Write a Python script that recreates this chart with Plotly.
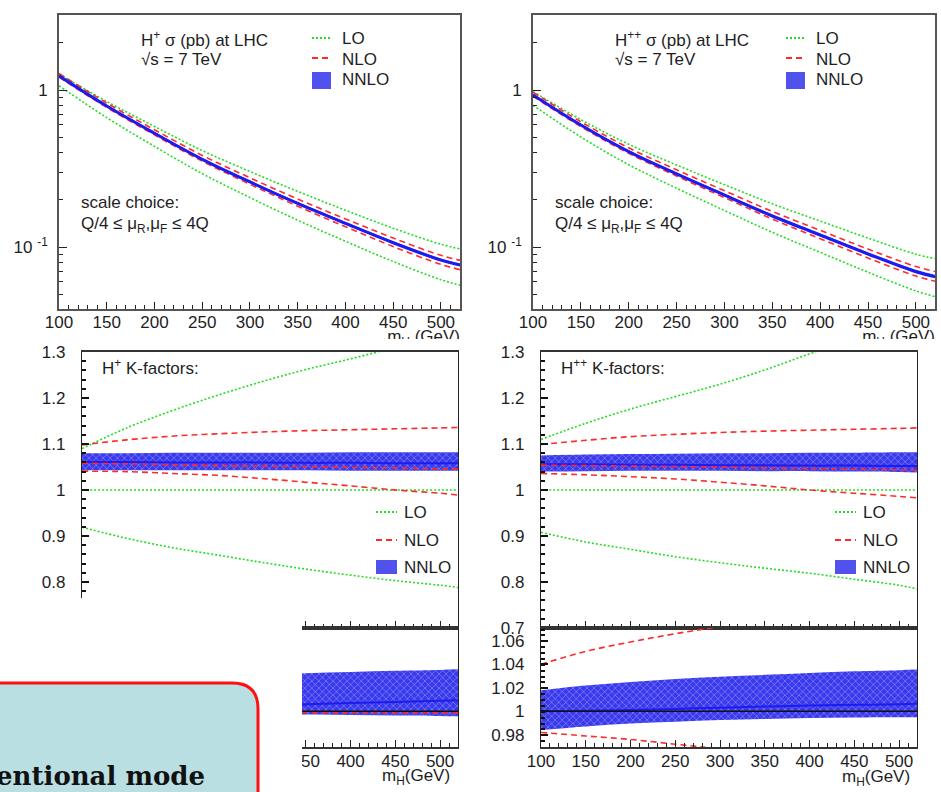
import plotly.graph_objects as go

W, H = 941, 792


def fx(p):
    return p / W


def fy(p):
    return 1 - p / H


mass = [100, 150, 200, 250, 300, 350, 400, 450, 500, 520]
mass_ticks = [100, 150, 200, 250, 300, 350, 400, 450, 500]
mass_ticks_cut = [350, 400, 450, 500]

# ---------------- H+ cross sections (pb) ----------------
hp_lo_up = [1.264, 0.8456, 0.586, 0.4115, 0.3026, 0.2259, 0.1715, 0.1318, 0.1040, 0.0973]
hp_lo_dn = [1.066, 0.6668, 0.4375, 0.2933, 0.2065, 0.1482, 0.1088, 0.0808, 0.0619, 0.0571]
hp_nlo_up = [1.274, 0.8262, 0.5585, 0.3832, 0.2759, 0.2021, 0.1510, 0.1140, 0.0885, 0.0824]
hp_nlo_dn = [1.208, 0.7748, 0.518, 0.3524, 0.2511, 0.1820, 0.1347, 0.1006, 0.0775, 0.0717]
hp_nnlo = [1.231, 0.7904, 0.530, 0.362, 0.2597, 0.1896, 0.1414, 0.1064, 0.0825, 0.0767]
hp_nnlo_up = [1.253, 0.8046, 0.5405, 0.3692, 0.2648, 0.1935, 0.1444, 0.1088, 0.0844, 0.0784]
hp_nnlo_dn = [1.210, 0.7770, 0.5215, 0.3562, 0.2555, 0.1867, 0.1391, 0.1048, 0.0813, 0.0755]

# ---------------- H++ cross sections (pb) ----------------
hpp_lo_up = [0.9776, 0.6484, 0.4515, 0.3330, 0.2497, 0.1884, 0.1464, 0.1140, 0.0900, 0.0844]
hpp_lo_dn = [0.7997, 0.5023, 0.3344, 0.2367, 0.1709, 0.1240, 0.0925, 0.0691, 0.0525, 0.0483]
hpp_nlo_up = [0.9679, 0.6275, 0.4284, 0.3103, 0.2284, 0.1685, 0.1277, 0.0970, 0.0751, 0.0698]
hpp_nlo_dn = [0.9124, 0.5850, 0.3950, 0.2834, 0.2065, 0.1507, 0.1130, 0.0851, 0.0653, 0.0605]
hpp_nnlo = [0.930, 0.598, 0.405, 0.292, 0.214, 0.1575, 0.119, 0.0902, 0.0696, 0.0647]
hpp_nnlo_up = [0.9468, 0.6099, 0.4138, 0.2987, 0.2192, 0.1614, 0.1222, 0.0926, 0.0716, 0.0665]
hpp_nnlo_dn = [0.9159, 0.5895, 0.4000, 0.2884, 0.2115, 0.1555, 0.1176, 0.0891, 0.0688, 0.0638]

# ---------------- H+ K-factors (relative to LO central) ----------------
kp_lo = [1.0, 1.0, 1.0, 1.0, 1.0, 1.0, 1.0, 1.0, 1.0, 1.0]
kp_lo_up = [1.09, 1.135, 1.172, 1.205, 1.235, 1.262, 1.285, 1.31, 1.333, 1.342]
kp_lo_dn = [0.919, 0.895, 0.875, 0.859, 0.843, 0.828, 0.815, 0.803, 0.793, 0.788]
kp_nlo_up = [1.098, 1.109, 1.117, 1.122, 1.126, 1.129, 1.131, 1.133, 1.135, 1.136]
kp_nlo = [1.058, 1.057, 1.055, 1.053, 1.052, 1.051, 1.049, 1.048, 1.046, 1.045]
kp_nlo_dn = [1.041, 1.040, 1.036, 1.032, 1.025, 1.017, 1.009, 1.000, 0.993, 0.989]
kp_nnlo = [1.061, 1.061, 1.060, 1.060, 1.060, 1.059, 1.059, 1.058, 1.058, 1.058]
kp_nnlo_up = [1.080, 1.080, 1.081, 1.081, 1.081, 1.081, 1.082, 1.082, 1.082, 1.082]
kp_nnlo_dn = [1.043, 1.043, 1.043, 1.043, 1.043, 1.043, 1.042, 1.042, 1.042, 1.042]

# ---------------- H++ K-factors ----------------
kpp_lo = [1.0, 1.0, 1.0, 1.0, 1.0, 1.0, 1.0, 1.0, 1.0, 1.0]
kpp_lo_up = [1.110, 1.145, 1.176, 1.203, 1.230, 1.261, 1.296, 1.33, 1.36, 1.372]
kpp_lo_dn = [0.908, 0.887, 0.871, 0.855, 0.842, 0.830, 0.819, 0.806, 0.793, 0.785]
kpp_nlo_up = [1.099, 1.108, 1.116, 1.121, 1.125, 1.128, 1.130, 1.132, 1.134, 1.135]
kpp_nlo = [1.054, 1.053, 1.052, 1.051, 1.050, 1.048, 1.047, 1.045, 1.044, 1.043]
kpp_nlo_dn = [1.036, 1.033, 1.029, 1.024, 1.017, 1.009, 1.000, 0.993, 0.986, 0.983]
kpp_nnlo = [1.056, 1.056, 1.055, 1.055, 1.054, 1.054, 1.053, 1.053, 1.052, 1.052]
kpp_nnlo_up = [1.075, 1.077, 1.078, 1.079, 1.080, 1.080, 1.081, 1.081, 1.082, 1.082]
kpp_nnlo_dn = [1.040, 1.041, 1.042, 1.042, 1.042, 1.041, 1.041, 1.040, 1.039, 1.038]

# ---------------- scale-variation ratios ----------------
rp_ref = [1.0, 1.0, 1.0, 1.0, 1.0, 1.0, 1.0, 1.0, 1.0, 1.0]
rp_nnlo = [1.000, 1.001, 1.002, 1.003, 1.005, 1.006, 1.007, 1.008, 1.009, 1.0094]
rp_nnlo_up = [1.018, 1.022, 1.025, 1.028, 1.030, 1.0323, 1.0335, 1.0345, 1.0352, 1.0357]
rp_nnlo_dn = [0.984, 0.987, 0.990, 0.9925, 0.995, 0.9972, 0.9968, 0.9964, 0.996, 0.9957]
rp_nlo = [0.999, 0.999, 0.999, 0.999, 0.999, 0.9988, 0.9987, 0.9986, 0.9985, 0.9985]

rpp_ref = [1.0, 1.0, 1.0, 1.0, 1.0, 1.0, 1.0, 1.0, 1.0, 1.0]
rpp_nnlo = [1.000, 1.0005, 1.001, 1.002, 1.003, 1.004, 1.005, 1.0055, 1.006, 1.0065]
rpp_nnlo_up = [1.018, 1.022, 1.025, 1.0275, 1.0295, 1.031, 1.0325, 1.034, 1.035, 1.0355]
rpp_nnlo_dn = [0.984, 0.987, 0.9895, 0.991, 0.9925, 0.9935, 0.9943, 0.9948, 0.995, 0.995]
rpp_nlo_up = [1.040, 1.051, 1.059, 1.066, 1.072, 1.077, 1.081, 1.084, 1.087, 1.088]
rpp_nlo_dn = [0.982, 0.979, 0.976, 0.972, 0.968, 0.964, 0.959, 0.955, 0.951, 0.950]

GREEN = "#22dd22"
RED = "#ff2a2a"
BLUE = "#1c1cf0"
FONT = "Liberation Sans, Arial, sans-serif"
TXT = "#1e1e1e"

fig = go.Figure()


def band(xa, ya, lo, hi):
    fig.add_trace(go.Scatter(x=mass, y=lo, mode="lines", line=dict(width=0, shape="spline"),
                             xaxis=xa, yaxis=ya, showlegend=False, hoverinfo="skip"))
    fig.add_trace(go.Scatter(x=mass, y=hi, mode="lines", line=dict(width=0, shape="spline"),
                             fill="tonexty", fillcolor="rgba(40,40,235,0.85)",
                             fillpattern=dict(shape="x", fgcolor="rgba(245,245,255,0.95)",
                                              bgcolor="rgba(35,35,235,0.9)", size=5, solidity=0.22),
                             xaxis=xa, yaxis=ya, showlegend=False, hoverinfo="skip"))


def curve(xa, ya, y, color, dash, width):
    fig.add_trace(go.Scatter(x=mass, y=y, mode="lines",
                             line=dict(color=color, dash=dash, width=width, shape="spline"),
                             xaxis=xa, yaxis=ya, showlegend=False, hoverinfo="skip"))


DOT = "2px,2px"
DASH = "6px,4px"

# cross-section panels
for xa, ya, up, dn, nlu, nld, c, cu, cd in [
    ("x", "y", hp_lo_up, hp_lo_dn, hp_nlo_up, hp_nlo_dn, hp_nnlo, hp_nnlo_up, hp_nnlo_dn),
    ("x2", "y2", hpp_lo_up, hpp_lo_dn, hpp_nlo_up, hpp_nlo_dn, hpp_nnlo, hpp_nnlo_up, hpp_nnlo_dn),
]:
    band(xa, ya, cd, cu)
    curve(xa, ya, up, GREEN, DOT, 1.6)
    curve(xa, ya, dn, GREEN, DOT, 1.6)
    curve(xa, ya, nlu, RED, DASH, 1.6)
    curve(xa, ya, nld, RED, DASH, 1.6)
    curve(xa, ya, c, BLUE, "solid", 3)

# K-factor panels
for xa, ya, lo, up, dn, nlu, nl, nld, c, cu, cd in [
    ("x3", "y3", kp_lo, kp_lo_up, kp_lo_dn, kp_nlo_up, kp_nlo, kp_nlo_dn, kp_nnlo, kp_nnlo_up, kp_nnlo_dn),
    ("x4", "y4", kpp_lo, kpp_lo_up, kpp_lo_dn, kpp_nlo_up, kpp_nlo, kpp_nlo_dn, kpp_nnlo, kpp_nnlo_up, kpp_nnlo_dn),
]:
    band(xa, ya, cd, cu)
    curve(xa, ya, lo, GREEN, DOT, 1.6)
    curve(xa, ya, up, GREEN, DOT, 1.6)
    curve(xa, ya, dn, GREEN, DOT, 1.6)
    curve(xa, ya, nlu, RED, DASH, 1.6)
    curve(xa, ya, nld, RED, DASH, 1.6)
    curve(xa, ya, c, BLUE, "solid", 2)
    curve(xa, ya, nl, RED, DASH, 1.6)

# ratio panels
band("x5", "y5", rp_nnlo_dn, rp_nnlo_up)
curve("x5", "y5", rp_nnlo, BLUE, "solid", 2)
curve("x5", "y5", rp_ref, "#111111", "solid", 1.5)
curve("x5", "y5", rp_nlo, RED, DASH, 1.4)

band("x6", "y6", rpp_nnlo_dn, rpp_nnlo_up)
curve("x6", "y6", rpp_nnlo, BLUE, "solid", 2)
curve("x6", "y6", rpp_ref, "#111111", "solid", 1.5)
curve("x6", "y6", rpp_nlo_up, RED, DASH, 1.6)
curve("x6", "y6", rpp_nlo_dn, RED, DASH, 1.6)

# partially hidden axis titles of the cross-section panels (clipped by the panels below)
for xa, ya in [("x7", "y7"), ("x8", "y8")]:
    fig.add_trace(go.Scatter(x=[1.0], y=[0.06], mode="text", text=["m<sub>H</sub> (GeV)"],
                             textposition="middle left", cliponaxis=True,
                             textfont=dict(family=FONT, size=17, color=TXT),
                             xaxis=xa, yaxis=ya, showlegend=False, hoverinfo="skip"))

tickfont = dict(family=FONT, size=17, color=TXT)


def xaxis_def(x0, x1, anchor, labels=True, linecolor="#333", standoff=-3, vals=mass_ticks):
    return dict(domain=[fx(x0), fx(x1)], range=[100, 520], anchor=anchor, automargin=False,
                tickvals=vals, showticklabels=labels, ticks="inside", ticklen=7,
                tickwidth=1.2, tickcolor="#222",
                minor=dict(dtick=10, tick0=100, ticks="inside", ticklen=4, tickwidth=1, tickcolor="#222"),
                showline=True, linecolor=linecolor, linewidth=1.6, mirror=True,
                showgrid=False, zeroline=False, tickfont=tickfont, ticklabelstandoff=standoff)


def yaxis_lin(y0, y1, anchor, rng, vals, text, mdt, linecolor="#222", standoff=12):
    return dict(domain=[fy(y1), fy(y0)], range=rng, anchor=anchor, automargin=False,
                tickvals=vals, ticktext=text, ticks="inside", ticklen=7, tickwidth=2, tickcolor="#111",
                minor=dict(dtick=mdt, tick0=rng[0], ticks="inside", ticklen=4, tickwidth=1.5, tickcolor="#111"),
                showline=True, linecolor=linecolor, linewidth=1.4, mirror=True,
                showgrid=False, zeroline=False, tickfont=tickfont, ticklabelstandoff=standoff)


def yaxis_log(anchor):
    return dict(domain=[fy(309), fy(15)], type="log", range=[-1.395, 0.478], anchor=anchor,
                automargin=False,
                tickvals=[0.1, 1], ticktext=["10&nbsp;<sup>-1</sup>", "1"],
                ticks="inside", ticklen=8, tickwidth=1.2, tickcolor="#222",
                minor=dict(tickvals=[0.05, 0.06, 0.07, 0.08, 0.09, 0.2, 0.3, 0.4, 0.5, 0.6, 0.7, 0.8, 0.9, 2, 3],
                           ticks="inside", ticklen=4, tickwidth=1, tickcolor="#222"),
                showline=True, linecolor="#555", linewidth=1.6, mirror=True,
                showgrid=False, zeroline=False, tickfont=tickfont, ticklabelstandoff=6)


K_VALS = [0.7, 0.8, 0.9, 1.0, 1.1, 1.2, 1.3]
K_TEXT = ["0.7", "0.8", "0.9", "1", "1.1", "1.2", "1.3"]
R_VALS = [0.98, 1.0, 1.02, 1.04, 1.06]
R_TEXT = ["0.98", "1", "1.02", "1.04", "1.06"]
R_RANGE = [0.9696, 1.0709]


def hidden_axis(x0, x1, anchor):
    return dict(domain=[fx(x0), fx(x1)], range=[0, 1], visible=False, anchor=anchor, automargin=False)


fig.update_layout(
    width=W, height=H, margin=dict(l=0, r=0, t=0, b=0, autoexpand=False),
    paper_bgcolor="white", plot_bgcolor="white", showlegend=False,
    xaxis=xaxis_def(59, 460, "y", linecolor="#555"),
    yaxis=yaxis_log("x"),
    xaxis2=xaxis_def(533, 935, "y2", linecolor="#555"),
    yaxis2=yaxis_log("x2"),
    xaxis3=xaxis_def(82, 458, "y3", labels=False),
    yaxis3=yaxis_lin(352, 628, "x3", [0.7, 1.3], K_VALS[1:], K_TEXT[1:], 0.02),
    xaxis4=xaxis_def(541, 917, "y4", labels=False),
    yaxis4=yaxis_lin(352, 628, "x4", [0.7, 1.3], K_VALS, K_TEXT, 0.02),
    xaxis5=xaxis_def(82, 458, "y5", standoff=-2, vals=mass_ticks_cut),
    yaxis5=yaxis_lin(628, 747, "x5", R_RANGE, R_VALS, R_TEXT, 0.005),
    xaxis6=xaxis_def(541, 917, "y6", standoff=-2),
    yaxis6=yaxis_lin(628, 747, "x6", R_RANGE, R_VALS, R_TEXT, 0.005),
    xaxis7=hidden_axis(300, 460, "y7"),
    yaxis7=dict(domain=[fy(339), fy(318)], range=[0, 1], visible=False, anchor="x7", automargin=False),
    xaxis8=hidden_axis(780, 935, "y8"),
    yaxis8=dict(domain=[fy(339), fy(318)], range=[0, 1], visible=False, anchor="x8", automargin=False),
)

ann = []


def text(x, y, s, size=17, anchor="left"):
    ann.append(dict(x=fx(x), y=fy(y), xref="paper", yref="paper", text=s, showarrow=False,
                    xanchor=anchor, yanchor="middle", font=dict(family=FONT, size=size, color=TXT)))


shapes = []


def leg_line(x0, x1, y, color, dash):
    shapes.append(dict(type="line", xref="paper", yref="paper", x0=fx(x0), x1=fx(x1), y0=fy(y), y1=fy(y),
                       line=dict(color=color, width=1.8, dash=dash)))


def leg_box(x0, x1, y0, y1):
    shapes.append(dict(type="rect", xref="paper", yref="paper", x0=fx(x0), x1=fx(x1), y0=fy(y1), y1=fy(y0),
                       fillcolor="rgba(50,50,235,0.85)", line=dict(width=0)))


# cross-section panel labels and legends
for dx, sup in [(0, "+"), (474, "++")]:
    text(139 + dx, 39, "H<sup>%s</sup> σ (pb) at LHC" % sup)
    text(139 + dx, 59, "√s = 7 TeV")
    text(79 + dx, 203, "scale choice:")
    text(79 + dx, 225, "Q/4 ≤ μ<sub>R</sub>,μ<sub>F</sub> ≤ 4Q")
    leg_line(312 + dx, 330 + dx, 38, GREEN, DOT)
    leg_line(312 + dx, 330 + dx, 58, RED, DASH)
    leg_box(312 + dx, 331 + dx, 72, 89)
    text(340 + dx, 38, "LO")
    text(340 + dx, 59, "NLO")
    text(340 + dx, 80, "NNLO")

# K-factor panel labels and legends
for dx, sup in [(0, "+"), (459, "++")]:
    text(100 + dx, 367, "H<sup>%s</sup> K-factors:" % sup)
    leg_line(376 + dx, 397 + dx, 512, GREEN, DOT)
    leg_line(376 + dx, 397 + dx, 540, RED, DASH)
    leg_box(376 + dx, 397 + dx, 560, 574)
    text(402 + dx, 512, "LO")
    text(402 + dx, 540, "NLO")
    text(402 + dx, 567, "NNLO")

text(416, 777, "m<sub>H</sub>(GeV)", anchor="center")
text(876, 778, "m<sub>H</sub>(GeV)", anchor="center")

# slide overlay: white cover and rounded box
shapes.append(dict(type="rect", xref="paper", yref="paper", x0=-0.02, x1=fx(302), y0=-0.02, y1=fy(598),
                   fillcolor="white", line=dict(width=0), layer="above"))
r = 26
path = "M %f %f L %f %f Q %f %f %f %f L %f %f L %f %f Z" % (
    fx(-20), fy(683), fx(258 - r), fy(683), fx(258), fy(683), fx(258), fy(683 + r),
    fx(258), fy(810), fx(-20), fy(810))
shapes.append(dict(type="path", xref="paper", yref="paper", path=path, fillcolor="#b9dfe3",
                   line=dict(color="#ff1010", width=3), layer="above"))

ann.append(dict(x=fx(207), y=fy(776), xref="paper", yref="paper", text="<b>Conventional mode</b>",
                showarrow=False, xanchor="right", yanchor="middle",
                font=dict(family="DejaVu Serif, serif", size=26, color="#111")))

fig.update_layout(annotations=ann, shapes=shapes)
fig.write_html("out.html")
